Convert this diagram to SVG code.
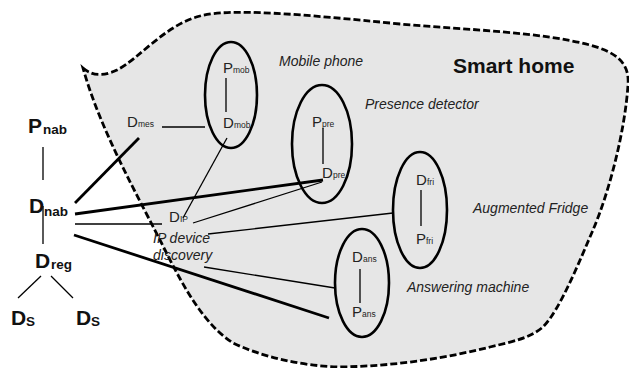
<svg xmlns="http://www.w3.org/2000/svg" width="629" height="368" viewBox="0 0 629 368">
<style>
.blob{fill:#e6e6e6;stroke:#000;stroke-width:2.8;stroke-dasharray:7 3}
.ell{fill:none;stroke:#000;stroke-width:2.6}
.thin{stroke:#000;stroke-width:1.3;fill:none}
.thick{stroke:#000;stroke-width:2.8;fill:none}
.n{font-family:"Liberation Sans",Arial,sans-serif;font-size:15px;fill:#222}
.s{font-size:8.5px}
.b{font-family:"Liberation Sans",Arial,sans-serif;font-size:21px;font-weight:bold;fill:#111}
.bs{font-size:13.5px}
.it{font-family:"Liberation Sans",Arial,sans-serif;font-size:14px;font-style:italic;fill:#222}
.title{font-family:"Liberation Sans",Arial,sans-serif;font-size:21px;font-weight:bold;fill:#111}
</style>
<g id="smart-home">
<path class="blob" d="M83,68 C90,74 100,78 117,70 C140,58 165,25 200,16 C230,8 300,14 400,24 C470,30 540,32 590,45 C615,52 630,62 628,85 C625,130 610,190 593,230 C580,260 560,310 543,327 C530,338 515,341 490,347 C450,357 400,366 340,367 C300,366 260,356 233,343 C205,325 185,290 165,250 C140,200 100,130 83,68 Z"/>
<text class="title" x="453" y="73">Smart home</text>
</g>
<g id="devices">
<ellipse class="ell" cx="231" cy="95" rx="26" ry="53"/>
<ellipse class="ell" cx="322" cy="144" rx="30" ry="59"/>
<ellipse class="ell" cx="420" cy="210" rx="27" ry="58"/>
<ellipse class="ell" cx="362" cy="283" rx="27" ry="54"/>
<text class="it" x="279" y="66">Mobile phone</text>
<text class="it" x="365" y="109">Presence detector</text>
<text class="it" x="473" y="213">Augmented Fridge</text>
<text class="it" x="407" y="292">Answering machine</text>
</g>
<g id="connectors">
<line class="thin" x1="43" y1="147" x2="43" y2="180"/>
<line class="thin" x1="43" y1="206" x2="43" y2="244"/>
<line class="thin" x1="41" y1="276" x2="18" y2="298"/>
<line class="thin" x1="51" y1="276" x2="73" y2="298"/>
<line class="thick" x1="75" y1="203" x2="139" y2="138"/>
<line class="thick" x1="75" y1="214" x2="323" y2="180"/>
<line class="thin" x1="75" y1="224" x2="162" y2="224"/>
<line class="thick" x1="74" y1="235" x2="329" y2="318"/>
<line class="thin" x1="162" y1="127" x2="205" y2="127"/>
<line class="thin" x1="226" y1="78" x2="226" y2="112"/>
<line class="thin" x1="323" y1="128" x2="323" y2="164"/>
<line class="thin" x1="421" y1="190" x2="421" y2="226"/>
<line class="thin" x1="360" y1="269" x2="360" y2="303"/>
<line class="thin" x1="183" y1="218" x2="227" y2="138"/>
<line class="thin" x1="193" y1="223" x2="322" y2="182"/>
<line class="thin" x1="208" y1="234" x2="393" y2="213"/>
<line class="thin" x1="204" y1="267" x2="335" y2="288"/>
</g>
<g id="P_nab"><text class="b" x="28" y="133">P<tspan class="bs" x="43" y="134">nab</tspan></text></g>
<g id="D_nab"><text class="b" x="29" y="213">D<tspan class="bs" x="44" y="216">nab</tspan></text></g>
<g id="D_reg"><text class="b" x="35" y="268">D<tspan class="bs" x="51" y="269">reg</tspan></text></g>
<g id="D_S1"><text class="b" x="11" y="325">D<tspan class="bs" x="26" y="326">S</tspan></text></g>
<g id="D_S2"><text class="b" x="76" y="325">D<tspan class="bs" x="91" y="326">S</tspan></text></g>
<g id="D_mes"><text class="n" x="127" y="127">D<tspan class="s" x="138" y="127">mes</tspan></text></g>
<g id="P_mob"><text class="n" x="223" y="73">P<tspan class="s" x="233" y="73">mob</tspan></text></g>
<g id="D_mob"><text class="n" x="223" y="128">D<tspan class="s" x="234" y="128">mob</tspan></text></g>
<g id="P_pre"><text class="n" x="312" y="127">P<tspan class="s" x="322" y="127">pre</tspan></text></g>
<g id="D_pre"><text class="n" x="322" y="178">D<tspan class="s" x="333" y="178">pre</tspan></text></g>
<g id="D_fri"><text class="n" x="416" y="185">D<tspan class="s" x="427" y="185">fri</tspan></text></g>
<g id="P_fri"><text class="n" x="416" y="244">P<tspan class="s" x="426" y="244">fri</tspan></text></g>
<g id="D_ans"><text class="n" x="352" y="262">D<tspan class="s" x="363" y="262">ans</tspan></text></g>
<g id="P_ans"><text class="n" x="352" y="317">P<tspan class="s" x="362" y="317">ans</tspan></text></g>
<g id="D_IP"><text class="n" x="169" y="222">D<tspan class="s" x="180" y="222">IP</tspan></text></g>
<g id="IP_discovery"><text class="it" x="153" y="243">IP device</text><text class="it" x="153" y="260">discovery</text></g>
</svg>
